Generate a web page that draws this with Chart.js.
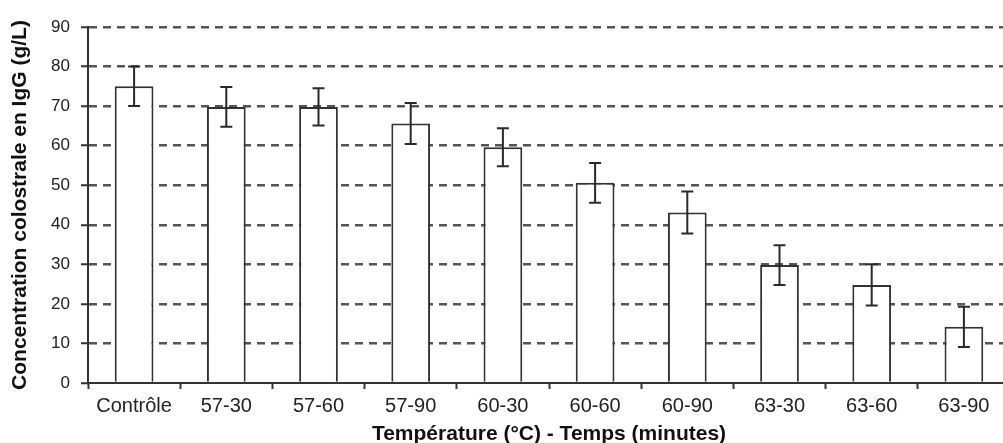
<!DOCTYPE html>
<html>
<head>
<meta charset="utf-8">
<script src="https://cdn.jsdelivr.net/npm/chart.js@4"></script>
<style>
  html, body { margin: 0; padding: 0; background: #fff; overflow: hidden; }
  #wrap { width: 1012px; height: 443px; }
</style>
</head>
<body>
<div id="wrap"><canvas id="myChart" width="1012" height="443"></canvas></div>
<script>
// 데이터
const labels = ["Contrôle", "57-30", "57-60", "57-90", "60-30", "60-60", "60-90", "63-30", "63-60", "63-90"];
const igg = [75, 69.8, 69.8, 65.6, 59.6, 50.6, 43.1, 29.8, 24.8, 14.2];
const ecart = [5, 5, 4.7, 5.2, 4.8, 5, 5.3, 5, 5.2, 5.1];
const yTicks = [0, 10, 20, 30, 40, 50, 60, 70, 80, 90];

// 오차 막대 그리기
const errorBars = {
  id: "errorBars",
  afterDatasetsDraw(chart) {
    const c = chart.ctx;
    const y = chart.scales.y;
    const meta = chart.getDatasetMeta(0);
    c.save();
    c.strokeStyle = "#2a2a2a";
    c.lineWidth = 2;
    meta.data.forEach(function (bar, i) {
      const top = y.getPixelForValue(igg[i] + ecart[i]);
      const bot = y.getPixelForValue(igg[i] - ecart[i]);
      c.beginPath();
      c.moveTo(bar.x, top);
      c.lineTo(bar.x, bot);
      c.moveTo(bar.x - 6, top);
      c.lineTo(bar.x + 6, top);
      c.moveTo(bar.x - 6, bot);
      c.lineTo(bar.x + 6, bot);
      c.stroke();
    });
    c.restore();
  },
};

const ctx = document.getElementById("myChart").getContext("2d");
const myChart = new Chart(ctx, {
  type: "bar",
  data: {
    labels: labels,
    datasets: [
      {
        data: igg,
        backgroundColor: "#fff",
        borderColor: "#333",
        borderWidth: 2,
        borderSkipped: "bottom",
        categoryPercentage: 1,
        barPercentage: 0.42,
      },
    ],
  },
  options: {
    responsive: false,
    animation: false,
    layout: { padding: { top: 27, right: 2, left: 0, bottom: 0 } },
    plugins: {
      legend: { display: false },
      tooltip: { enabled: false },
    },
    scales: {
      x: {
        grid: {
          offset: true,
          drawOnChartArea: false,
          tickLength: 6,
          tickColor: "#333",
          tickWidth: 2,
        },
        border: { color: "#333", width: 2 },
        ticks: {
          color: "#222",
          padding: 5,
          maxRotation: 0,
          font: { family: "Liberation Sans, Arial", size: 20 },
        },
        title: {
          display: true,
          text: "Température (°C) - Temps (minutes)",
          color: "#111",
          padding: { top: 0, bottom: 0 },
          font: { family: "Liberation Sans, Arial", size: 21, weight: "bold", lineHeight: 0.85 },
        },
        afterFit: function (scale) {
          scale.height = 60;
        },
      },
      y: {
        min: 0,
        max: 90,
        afterBuildTicks: function (scale) {
          scale.ticks = yTicks.map(function (v) { return { value: v }; });
        },
        grid: {
          color: function (c) {
            return c.tick && c.tick.value === 0 ? "rgba(0,0,0,0)" : "#555";
          },
          lineWidth: 2.5,
          tickLength: 7,
          tickColor: "#333",
          tickWidth: 2,
          tickBorderDash: [],
        },
        border: { color: "#333", width: 2, dash: [8, 6] },
        ticks: {
          color: "#222",
          padding: 11,
          font: { family: "Liberation Sans, Arial", size: 17 },
        },
        title: {
          display: true,
          text: "Concentration colostrale en IgG (g/L)",
          color: "#111",
          padding: { top: 8, bottom: 0 },
          font: { family: "Liberation Sans, Arial", size: 21, weight: "bold" },
        },
        afterFit: function (scale) {
          scale.width = 88;
        },
      },
    },
  },
  plugins: [errorBars],
});
</script>
</body>
</html>
